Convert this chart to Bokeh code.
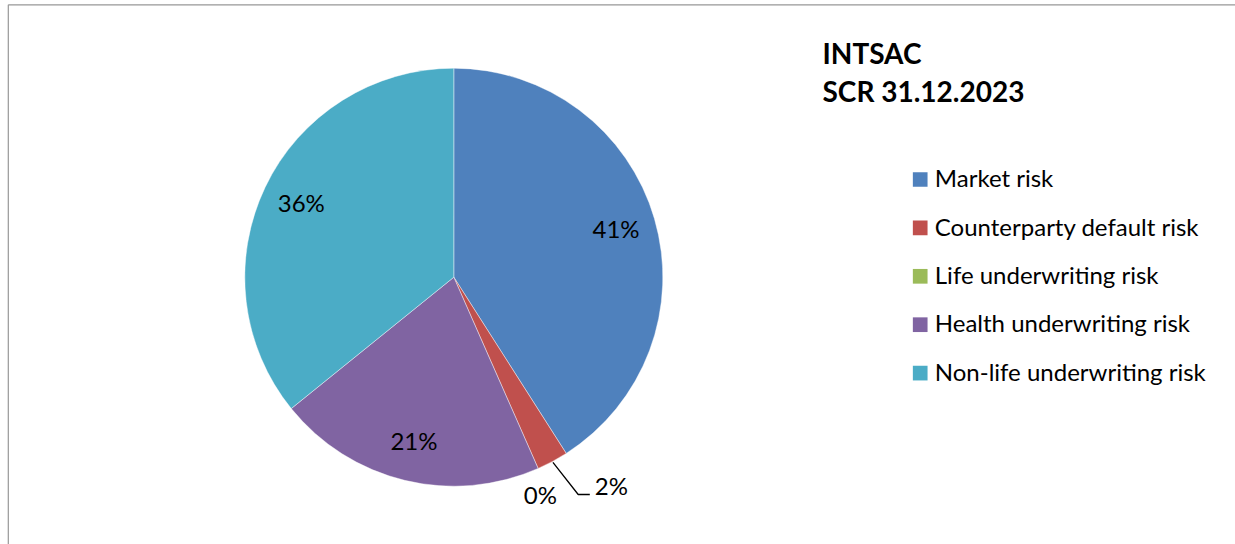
import math
from bokeh.plotting import figure
from bokeh.models import Range1d, ColumnDataSource
from bokeh.core.properties import value
from bokeh.embed import file_html
from bokeh.resources import INLINE

# ---- data ----
categories = ["Market risk", "Counterparty default risk", "Life underwriting risk",
              "Health underwriting risk", "Non-life underwriting risk"]
shares = [40.96, 2.43, 0.0, 20.79, 35.82]
labels = ["41%", "2%", "0%", "21%", "36%"]
colors = ["#4F81BD", "#C0504D", "#9BBB59", "#8064A2", "#4BACC6"]
title_lines = ["INTSAC", "SCR 31.12.2023"]

W, H = 1235, 544
FONT = "Lato"
LBL = 24
TTL = 28
SHIFT = 0.42  # empirical baseline correction (em)


def sx(X):
    return X


def sy(Y):
    return H - Y


def by(Y, fs):
    # baseline at screen Y for font size fs
    return sy(Y) + SHIFT * fs


p = figure(width=W, height=H, output_backend="svg", toolbar_location=None,
           x_range=Range1d(0, W), y_range=Range1d(0, H), min_border=0)
p.axis.visible = False
p.grid.visible = False
p.outline_line_color = None
p.background_fill_color = "white"
p.border_fill_color = "white"

# frame lines (left and top)
p.segment(x0=[7.8, 7.8], y0=[0, sy(4.3)], x1=[7.8, W], y1=[sy(4.3), sy(4.3)],
          line_color="#979797", line_width=1.2)

cx, cy, R = sx(453.3), sy(276.7), 209
total = sum(shares)
starts, ends, mids, wcol = [], [], [], []
c = 0.0
for v, col in zip(shares, colors):
    a0 = c / total
    c += v
    a1 = c / total
    mids.append(2 * math.pi * (a0 + a1) / 2)
    if v > 0:
        starts.append(math.pi / 2 - 2 * math.pi * a0)
        ends.append(math.pi / 2 - 2 * math.pi * a1)
        wcol.append(col)

src = ColumnDataSource(dict(start=starts, end=ends, color=wcol))
p.wedge(x=cx, y=cy, radius=R, start_angle="start", end_angle="end",
        direction="clock", fill_color="color", line_color="white",
        line_width=0.6, line_alpha=0.7, source=src)

# in-slice labels (computed along mid angle)
inside = [0, 3, 4]
rl = 169
cap = 0.72 * LBL / 2
lx = [cx + rl * math.sin(mids[i]) for i in inside]
ly = [cy + rl * math.cos(mids[i]) - cap + SHIFT * LBL for i in inside]
p.text(x=lx, y=ly, text=[labels[i] for i in inside], text_align="center",
       text_baseline="alphabetic", text_font=value(FONT), text_font_size=f"{LBL}px",
       text_color="black")

# outside labels with leader
m = mids[1]
ax0, ay0 = cx + (R + 1) * math.sin(m), cy + (R + 1) * math.cos(m)
p.line(x=[ax0, sx(577.7), sx(589.3)], y=[ay0, sy(494), sy(494)],
       line_color="black", line_width=1.3)
p.text(x=[sx(594.3)], y=[by(495, LBL)], text=[labels[1]], text_align="left",
       text_baseline="alphabetic", text_font=value(FONT), text_font_size=f"{LBL}px",
       text_color="black")
p.text(x=[sx(523.3)], y=[by(504, LBL)], text=[labels[2]], text_align="left",
       text_baseline="alphabetic", text_font=value(FONT), text_font_size=f"{LBL}px",
       text_color="black")

# title
p.text(x=[sx(822)] * 2, y=[by(64.3, TTL), by(102.7, TTL)], text=title_lines,
       text_align="left", text_baseline="alphabetic", text_font=value(FONT),
       text_font_size=f"{TTL}px", text_font_style="bold", text_color="black")

# legend
ys = [179 + 48.4 * i for i in range(len(categories))]
p.rect(x=[sx(919.7)] * len(categories), y=[sy(v) for v in ys], width=14.7,
       height=14.7, fill_color=colors, line_color=None)
p.text(x=[sx(934.3)] * len(categories), y=[by(v + 8.2, LBL) for v in ys],
       text=categories, text_align="left", text_baseline="alphabetic",
       text_font=value(FONT), text_font_size=f"{LBL}px", text_color="black")

open("out.html", "w").write(file_html(p, INLINE))
